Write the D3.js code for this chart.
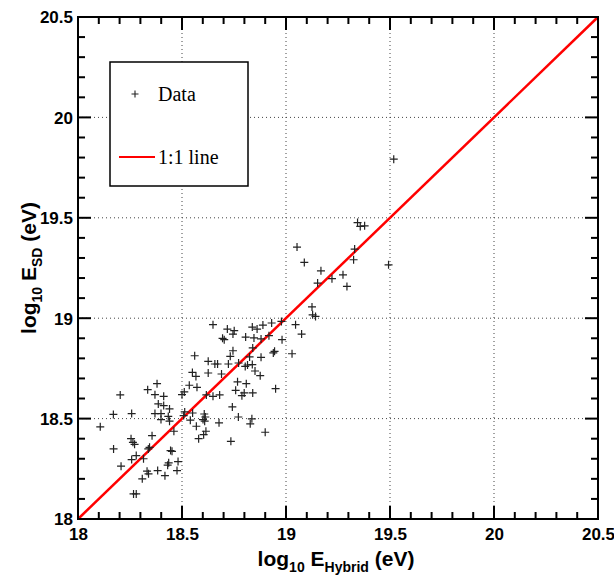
<!DOCTYPE html>
<html><head><meta charset="utf-8">
<script src="https://cdn.jsdelivr.net/npm/d3@7"></script>
<style>body{margin:0;background:#fff}svg{display:block}</style>
</head><body>
<svg id="c" width="614" height="579"></svg>
<script>
const xHybrid = [18.649,18.718,18.751,18.745,18.695,18.703,18.745,18.732,18.561,18.626,18.658,18.671,18.723,18.550,18.567,18.626,18.690,
18.767,18.758,18.380,18.335,18.203,18.535,18.572,18.511,18.500,18.370,18.412,18.617,18.649,18.681,18.386,18.412,18.440,18.742,
18.170,18.258,18.370,18.399,18.399,18.434,18.440,18.513,18.551,18.508,18.540,18.607,18.612,18.601,18.609,18.771,18.678,18.569,
18.461,18.107,18.356,18.615,18.604,18.580,18.255,18.264,18.272,18.344,18.338,18.171,18.735,18.445,18.452,18.280,18.258,18.315,
18.481,18.436,18.431,18.207,18.383,18.418,18.476,18.332,18.339,18.309,18.267,18.280,
19.053,19.088,19.168,19.152,19.221,19.274,19.293,19.330,19.325,19.493,19.518,19.125,19.128,19.142,19.046,19.075,18.981,19.029,
18.838,18.861,18.889,18.931,18.806,18.846,18.880,18.918,18.939,18.945,18.840,18.880,18.825,18.815,18.804,18.838,18.851,18.876,
18.809,18.799,18.840,18.788,18.950,18.836,18.828,18.900,18.978,18.772,19.344,19.357,19.378];
const ySD = [18.968,18.946,18.938,18.921,18.900,18.893,18.838,18.810,18.813,18.785,18.772,18.772,18.772,18.730,18.710,18.727,18.722,
18.683,18.641,18.674,18.644,18.618,18.666,18.656,18.633,18.619,18.619,18.611,18.618,18.611,18.618,18.573,18.565,18.548,18.558,
18.521,18.525,18.525,18.525,18.495,18.511,18.487,18.533,18.528,18.515,18.492,18.523,18.508,18.495,18.487,18.508,18.479,18.462,
18.437,18.459,18.415,18.437,18.420,18.400,18.400,18.382,18.372,18.357,18.349,18.349,18.387,18.341,18.337,18.316,18.296,18.300,
18.286,18.280,18.268,18.263,18.241,18.216,18.241,18.238,18.225,18.200,18.125,18.125,
19.354,19.278,19.236,19.175,19.197,19.216,19.158,19.344,19.291,19.266,19.792,19.056,19.017,19.009,18.968,18.921,18.893,18.823,
18.956,18.946,18.966,18.976,18.906,18.902,18.897,18.913,18.827,18.835,18.852,18.805,18.807,18.767,18.760,18.769,18.737,18.714,
18.674,18.628,18.628,18.614,18.649,18.499,18.474,18.432,18.984,18.777,19.476,19.457,19.460];
const axisDomain = [18, 20.5];
const majorTicks = [18, 18.5, 19, 19.5, 20, 20.5];
const tickLabels = ["18", "18.5", "19", "19.5", "20", "20.5"];
const gridValues = [18.5, 19, 19.5, 20];
const legendLabels = ["Data", "1:1 line"];

const svg = d3.select("#c");
const L = 78, R = 598, T = 17, B = 519;
const x = d3.scaleLinear().domain(axisDomain).range([L, R]);
const y = d3.scaleLinear().domain(axisDomain).range([B, T]);
const minor = d3.range(18, 20.5001, 0.1).map(v => +v.toFixed(1));

// grid
const g = svg.append("g");
g.selectAll(".gx").data(gridValues).join("line")
  .attr("x1", d => x(d)).attr("x2", d => x(d)).attr("y1", T).attr("y2", B)
  .attr("stroke", "#444").attr("stroke-width", 1).attr("stroke-dasharray", "1,3");
g.selectAll(".gy").data(gridValues).join("line")
  .attr("y1", d => y(d)).attr("y2", d => y(d)).attr("x1", L).attr("x2", R)
  .attr("stroke", "#444").attr("stroke-width", 1).attr("stroke-dasharray", "1,3");

// ticks on four sides
const isMajor = v => Math.abs(v * 2 - Math.round(v * 2)) < 1e-6;
const tk = svg.append("g").attr("stroke", "#000").attr("stroke-width", 2);
minor.forEach(v => {
  const len = isMajor(v) ? 13 : 7;
  tk.append("line").attr("x1", x(v)).attr("x2", x(v)).attr("y1", B).attr("y2", B - len);
  tk.append("line").attr("x1", x(v)).attr("x2", x(v)).attr("y1", T).attr("y2", T + len);
  tk.append("line").attr("y1", y(v)).attr("y2", y(v)).attr("x1", L).attr("x2", L + len);
  tk.append("line").attr("y1", y(v)).attr("y2", y(v)).attr("x1", R).attr("x2", R - len);
});

// tick labels via axes (no tick lines)
const xAxis = d3.axisBottom(x).tickValues(majorTicks).tickSize(0).tickPadding(9)
  .tickFormat((d, i) => tickLabels[i]);
const yAxis = d3.axisLeft(y).tickValues(majorTicks).tickSize(0).tickPadding(5)
  .tickFormat((d, i) => tickLabels[i]);
const xa = svg.append("g").attr("transform", `translate(0,${B})`).call(xAxis);
const ya = svg.append("g").attr("transform", `translate(${L},0)`).call(yAxis);
[xa, ya].forEach(a => {
  a.select(".domain").remove();
  a.selectAll("text").attr("font-family", "Liberation Sans, Arial, sans-serif")
    .attr("font-weight", "bold").attr("font-size", 17).attr("fill", "#000");
});
ya.selectAll("text").attr("dy", "0.35em");

// 1:1 line
svg.append("line").attr("x1", x(18)).attr("y1", y(18)).attr("x2", x(20.5)).attr("y2", y(20.5))
  .attr("stroke", "#f00").attr("stroke-width", 2.5);

// data markers
const pts = svg.append("g");
xHybrid.forEach((xv, i) => {
  const px = x(xv), py = y(ySD[i]);
  pts.append("path").attr("d", `M${px - 4},${py}H${px + 4}M${px},${py - 4}V${py + 4}`)
    .attr("stroke", "#222").attr("stroke-width", 1.2).attr("fill", "none");
});

// frame
svg.append("rect").attr("x", L).attr("y", T).attr("width", R - L).attr("height", B - T)
  .attr("fill", "none").attr("stroke", "#000").attr("stroke-width", 2);

// legend
const lg = svg.append("g");
lg.append("rect").attr("x", 110).attr("y", 62).attr("width", 138).attr("height", 124)
  .attr("fill", "#fff").attr("stroke", "#000").attr("stroke-width", 1.5);
lg.append("path").attr("d", "M131.5,94H138.5M135,90.5V97.5").attr("stroke", "#222").attr("stroke-width", 1.1);
lg.append("text").attr("x", 158).attr("y", 101).text(legendLabels[0])
  .attr("font-family", "Liberation Serif, Times New Roman, serif").attr("font-size", 20);
lg.append("line").attr("x1", 119).attr("x2", 155).attr("y1", 157).attr("y2", 157)
  .attr("stroke", "#f00").attr("stroke-width", 2);
lg.append("text").attr("x", 158).attr("y", 164).text(legendLabels[1])
  .attr("font-family", "Liberation Serif, Times New Roman, serif").attr("font-size", 20);

// axis titles
const tf = "Liberation Sans, Arial, sans-serif";
const xt = svg.append("text").attr("x", 336).attr("y", 566).attr("text-anchor", "middle")
  .attr("font-family", tf).attr("font-weight", "bold").attr("font-size", 21);
xt.append("tspan").text("log");
xt.append("tspan").text("10").attr("font-size", 14).attr("dy", 6);
xt.append("tspan").text(" E").attr("dy", -6);
xt.append("tspan").text("Hybrid").attr("font-size", 14).attr("dy", 6);
xt.append("tspan").text(" (eV)").attr("dy", -6);

const yt = svg.append("text").attr("transform", "translate(36,268) rotate(-90)").attr("text-anchor", "middle")
  .attr("font-family", tf).attr("font-weight", "bold").attr("font-size", 21);
yt.append("tspan").text("log");
yt.append("tspan").text("10").attr("font-size", 14).attr("dy", 6);
yt.append("tspan").text(" E").attr("dy", -6);
yt.append("tspan").text("SD").attr("font-size", 14).attr("dy", 6);
yt.append("tspan").text(" (eV)").attr("dy", -6);
</script>
</body></html>
